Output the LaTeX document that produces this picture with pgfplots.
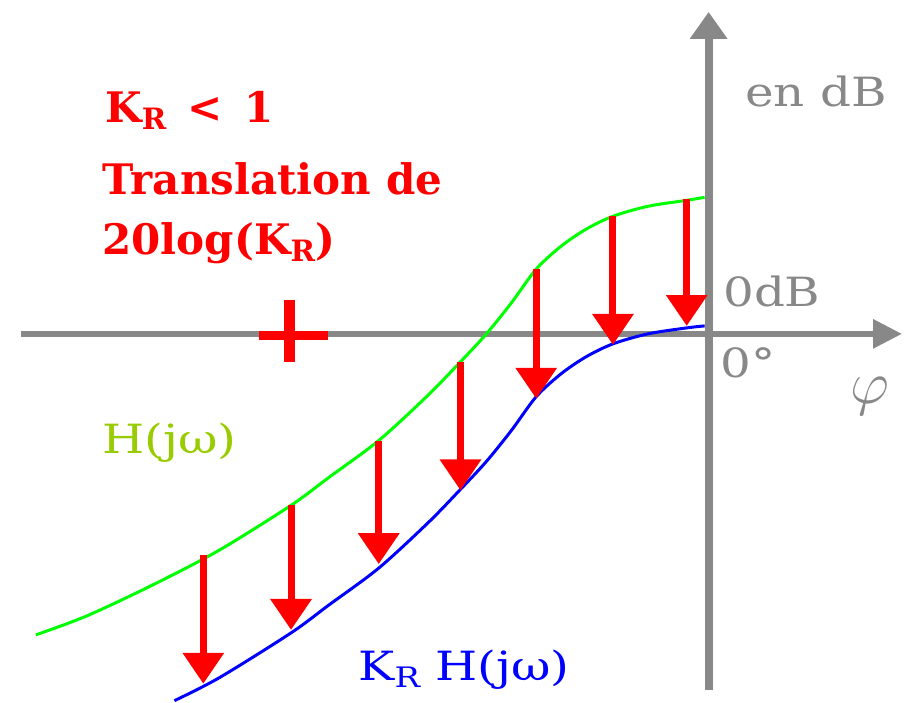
\documentclass[border=0pt]{standalone}
\usepackage{pgfplots}
\pgfplotsset{compat=1.18}
\usepackage{fontspec}
\setmainfont{DejaVu Serif}
\usetikzlibrary{arrows.meta}
\usepackage{graphicx}
\definecolor{axgrey}{HTML}{888888}
\definecolor{hgreen}{HTML}{00FF00}
\definecolor{lbgreen}{HTML}{99CC00}
\definecolor{kblue}{HTML}{0000FF}
\definecolor{kred}{HTML}{FF0000}
\newcommand{\redtxt}{\fontsize{12}{14}\selectfont\bfseries}
\newcommand{\regtxt}[1]{\scalebox{1.2}[1]{\fontsize{11.5}{13}\selectfont #1}}
\newcommand{\subR}{\raisebox{-2pt}{\scalebox{0.7}{R}}}
\begin{document}
\begin{tikzpicture}
\begin{axis}[
  width=90.5mm, height=70.4mm, scale only axis,
  xmin=0, xmax=905, ymin=0, ymax=704,
  hide axis, clip=false,
  redarr/.style={kred, line width=0.7mm, -{Triangle[length=3.1mm,width=4mm]}, forget plot},
]
\path (axis cs:0,0) (axis cs:905,704);
% axes
\addplot[axgrey, line width=0.6mm, -{Triangle[length=2.9mm,width=2.8mm]}, forget plot] coordinates {(21,369) (905,369)};
\addplot[axgrey, line width=0.8mm, -{Triangle[length=2.7mm,width=3.6mm]}, forget plot] coordinates {(711,12) (711,692)};
% critical point cross
\addplot[kred, line width=0.9mm, forget plot] coordinates {(260,367.5) (329,367.5)};
\addplot[kred, line width=1.1mm, forget plot] coordinates {(290.5,403) (290.5,341)};
% H(jw)
\addplot[hgreen, line width=0.3mm, smooth] coordinates {
(36,67) (87,86) (153,117) (220,152) (292,197) (330,225) (380,262) (430,308) (462,341) (488,369) (513,400) (538,434) (563,457) (588,474) (615,487) (650,497) (689,503) (707,506)};
% K_R H(jw)
\addplot[kblue, line width=0.3mm, smooth] coordinates {
(175,1) (220,24) (292,69) (330,97) (380,134) (430,180) (462,213) (488,241) (513,272) (538,306) (563,329) (588,346) (615,359) (650,369) (689,375) (707,377)};
% translation arrows
\addplot[redarr] coordinates {(204,147) (204,18)};
\addplot[redarr] coordinates {(292,197) (292,72)};
\addplot[redarr] coordinates {(380,262) (380,138)};
\addplot[redarr] coordinates {(462,341) (462,212)};
\addplot[redarr] coordinates {(538,434) (538,304)};
\addplot[redarr] coordinates {(615,487) (615,358)};
\addplot[redarr] coordinates {(689,504) (689,377)};
% texts
\node[anchor=base west, inner sep=0, text=kred] at (axis cs:105,581) {\redtxt K\subR\ \,<\, 1};
\node[anchor=base west, inner sep=0, text=kred] at (axis cs:102,509) {\redtxt Translation de};
\node[anchor=base west, inner sep=0, text=kred] at (axis cs:102,449) {\redtxt 20log(K\subR)};
\node[anchor=base west, inner sep=0, text=axgrey] at (axis cs:747,597) {\regtxt{en dB}};
\node[anchor=base west, inner sep=0, text=axgrey] at (axis cs:725,396) {\regtxt{0dB}};
\node[anchor=base west, inner sep=0, text=axgrey] at (axis cs:722,325) {\regtxt{0°}};
\node[anchor=base west, inner sep=0, text=axgrey] at (axis cs:853,299) {\fontsize{16}{18}\selectfont$\varphi$};
\node[anchor=base west, inner sep=0, text=lbgreen] at (axis cs:102,249) {\regtxt{H(jω)}};
\node[anchor=base west, inner sep=0, text=kblue] at (axis cs:359,21) {\regtxt{K\subR\ H(jω)}};
\end{axis}
\end{tikzpicture}
\end{document}
